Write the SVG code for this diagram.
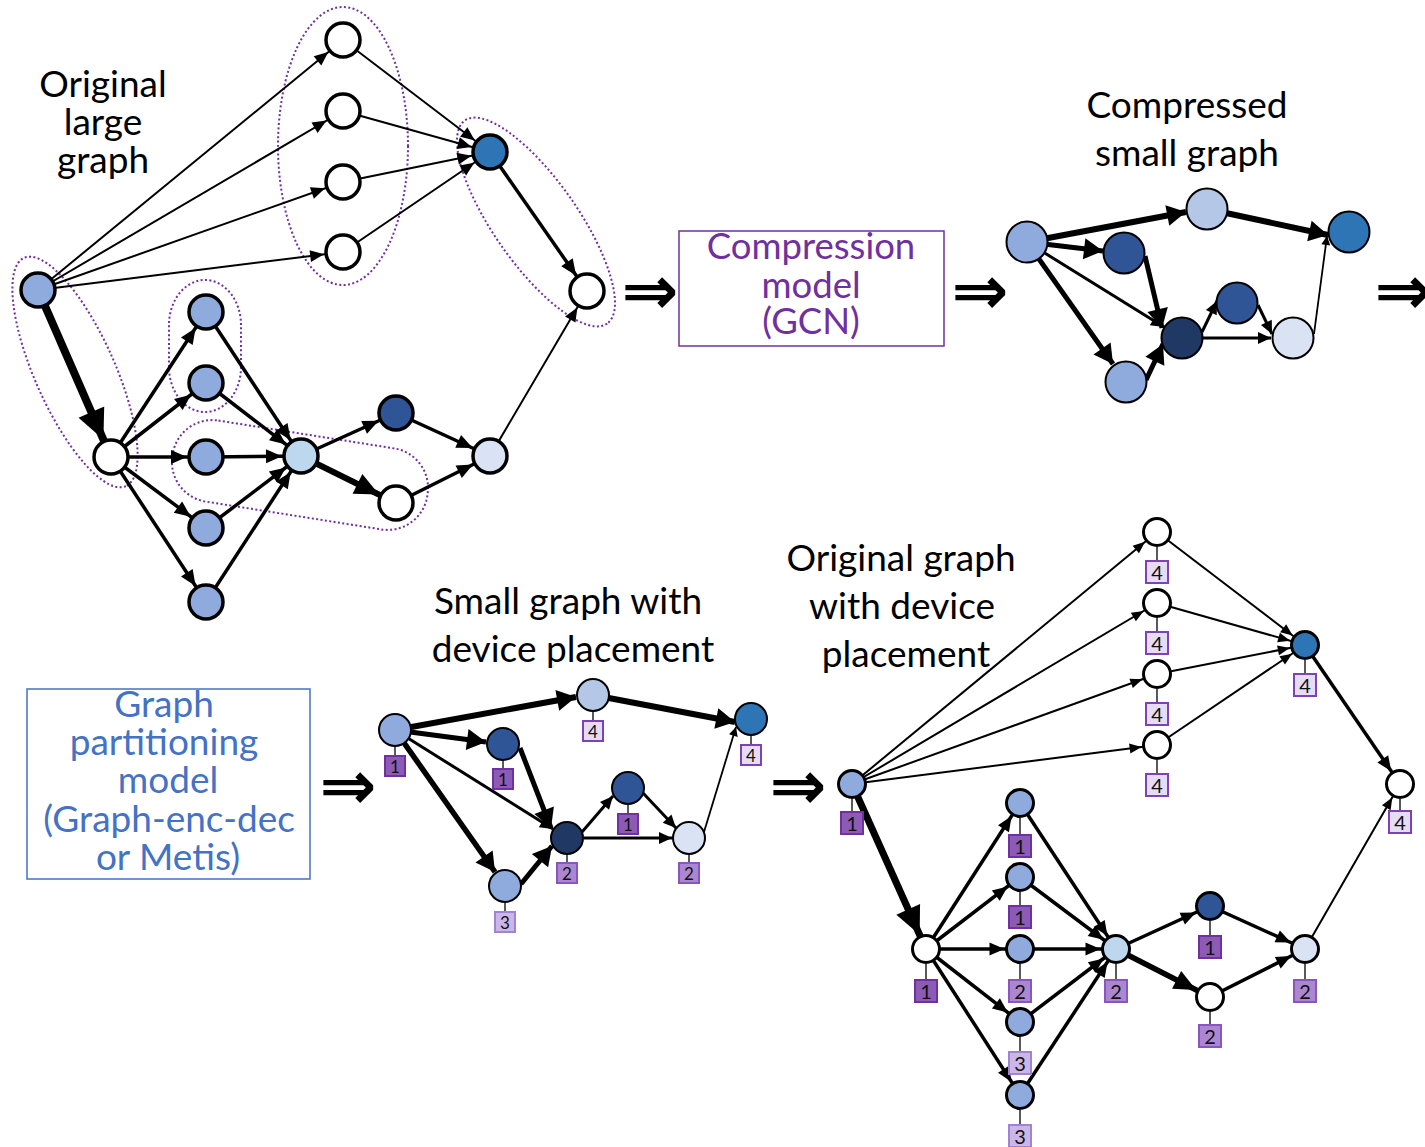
<svg xmlns="http://www.w3.org/2000/svg" width="1425" height="1147" viewBox="0 0 1425 1147">
  <style>
    text { font-family: Lato, "Liberation Sans", sans-serif; }
    .title { font-size: 37px; fill: #000; text-anchor: middle; }
    .boxp { font-size: 36.5px; fill: #7030A0; text-anchor: middle; }
    .boxb { font-size: 37px; fill: #4472C4; text-anchor: middle; }
    .imp { font-family: "DejaVu Sans", sans-serif; font-weight: bold; font-size: 68px; text-anchor: middle; fill: #000; }
    .e { stroke: #000; fill: none; }
    .grp { fill: none; stroke: #7030A0; stroke-width: 2; stroke-dasharray: 2 2.4; }
    .big circle { stroke: #000; stroke-width: 3.5; }
    .cmp circle { stroke: #000; stroke-width: 2; }
    .sml circle { stroke: #000; stroke-width: 2; }
    .org circle { stroke: #000; stroke-width: 3; }
    .tick { stroke: #222; stroke-width: 1.5; }
    .dev1 { fill: #8C5BB6; stroke: #7030A0; stroke-width: 2; }
    .dev2 { fill: #AB87D1; stroke: #8A55BF; stroke-width: 2; }
    .dev3 { fill: #CAB6E7; stroke: #A183D3; stroke-width: 2; }
    .dev4 { fill: #E6DDF4; stroke: #7D42B5; stroke-width: 2; }
    .sml text { font-size: 17px; text-anchor: middle; fill: #111; }
    .org text { font-size: 20px; text-anchor: middle; fill: #111; }
    .wht { fill: #FFFFFF; }
    .c1 { fill: #8FAADC; }
    .c2 { fill: #B4C7E7; }
    .c3 { fill: #BDD7EE; }
    .c4 { fill: #DAE3F3; }
    .c5 { fill: #2F5597; }
    .c6 { fill: #203864; }
    .c7 { fill: #2E75B6; }
  </style>
  <defs>
    <!-- arrowheads whose tip stops at the rim of a target node (refX = outer radius) -->
    <marker id="a1s" markerUnits="userSpaceOnUse" orient="auto" refX="19" refY="0" markerWidth="1" markerHeight="1" overflow="visible"><path d="M0,0 L-14,-6 L-14,6 z"/></marker>
    <marker id="a1m" markerUnits="userSpaceOnUse" orient="auto" refX="19" refY="0" markerWidth="1" markerHeight="1" overflow="visible"><path d="M0,0 L-16,-7 L-16,7 z"/></marker>
    <marker id="a1l" markerUnits="userSpaceOnUse" orient="auto" refX="19" refY="0" markerWidth="1" markerHeight="1" overflow="visible"><path d="M0,0 L-24,-11 L-24,11 z"/></marker>
    <marker id="a1x" markerUnits="userSpaceOnUse" orient="auto" refX="19" refY="0" markerWidth="1" markerHeight="1" overflow="visible"><path d="M0,0 L-30,-14 L-30,14 z"/></marker>
    <marker id="a4s" markerUnits="userSpaceOnUse" orient="auto" refX="15.5" refY="0" markerWidth="1" markerHeight="1" overflow="visible"><path d="M0,0 L-12,-5 L-12,5 z"/></marker>
    <marker id="a4m" markerUnits="userSpaceOnUse" orient="auto" refX="15.5" refY="0" markerWidth="1" markerHeight="1" overflow="visible"><path d="M0,0 L-15,-6.5 L-15,6.5 z"/></marker>
    <marker id="a4l" markerUnits="userSpaceOnUse" orient="auto" refX="15.5" refY="0" markerWidth="1" markerHeight="1" overflow="visible"><path d="M0,0 L-22,-10 L-22,10 z"/></marker>
    <marker id="a4x" markerUnits="userSpaceOnUse" orient="auto" refX="15.5" refY="0" markerWidth="1" markerHeight="1" overflow="visible"><path d="M0,0 L-28,-13 L-28,13 z"/></marker>
    <!-- arrowheads whose tip sits exactly on the path end -->
    <marker id="ts" markerUnits="userSpaceOnUse" orient="auto" refX="0" refY="0" markerWidth="1" markerHeight="1" overflow="visible"><path d="M0,0 L-9,-4.5 L-9,4.5 z"/></marker>
    <marker id="tm" markerUnits="userSpaceOnUse" orient="auto" refX="0" refY="0" markerWidth="1" markerHeight="1" overflow="visible"><path d="M0,0 L-13,-6 L-13,6 z"/></marker>
    <marker id="tl" markerUnits="userSpaceOnUse" orient="auto" refX="0" refY="0" markerWidth="1" markerHeight="1" overflow="visible"><path d="M0,0 L-19,-10.5 L-19,10.5 z"/></marker>
  </defs>

  <rect width="1425" height="1147" fill="#FFFFFF"/>

  <!-- captions -->
  <g id="captions">
    <text class="title" x="103" y="97">Original</text>
    <text class="title" x="103" y="135">large</text>
    <text class="title" x="103" y="173">graph</text>
    <text class="title" x="1187" y="118">Compressed</text>
    <text class="title" x="1187" y="166">small graph</text>
    <text class="title" x="568" y="614">Small graph with</text>
    <text class="title" x="573" y="662">device placement</text>
    <text class="title" x="901" y="571">Original graph</text>
    <text class="title" x="902" y="619">with device</text>
    <text class="title" x="906" y="667">placement</text>
  </g>

  <!-- step arrows -->
  <g id="steps">
    <text class="imp" x="650" y="314">⇒</text>
    <text class="imp" x="980" y="314">⇒</text>
    <text class="imp" x="1403" y="314">⇒</text>
    <text class="imp" x="348" y="809">⇒</text>
    <text class="imp" x="798" y="809">⇒</text>
  </g>

  <!-- model boxes -->
  <g id="compression-model">
    <rect x="679" y="231" width="265" height="115" fill="none" stroke="#7030A0" stroke-width="1.5"/>
    <text class="boxp" x="811" y="259">Compression</text>
    <text class="boxp" x="811" y="298">model</text>
    <text class="boxp" x="811" y="334">(GCN)</text>
  </g>
  <g id="partitioning-model">
    <rect x="27" y="689" width="283" height="190" fill="none" stroke="#4472C4" stroke-width="1.5"/>
    <text class="boxb" x="164" y="717">Graph</text>
    <text class="boxb" x="164" y="755">partitioning</text>
    <text class="boxb" x="168" y="793">model</text>
    <text class="boxb" x="169" y="832">(Graph-enc-dec</text>
    <text class="boxb" x="168" y="870">or Metis)</text>
  </g>

  <!-- ============ original large graph ============ -->
  <g id="clusters">
    <ellipse class="grp" cx="75" cy="372" rx="125" ry="40" transform="rotate(66 75 372)"/>
    <ellipse class="grp" cx="343" cy="146" rx="65" ry="139"/>
    <ellipse class="grp" cx="536" cy="222" rx="124" ry="42" transform="rotate(55 536 222)"/>
    <rect class="grp" x="169" y="280" width="72" height="132" rx="36" ry="45"/>
    <rect class="grp" x="171" y="434" width="258" height="82" rx="40" ry="40" transform="rotate(9 300 475)"/>
  </g>

  <g id="edges-large" class="e">
    <g stroke-width="2" marker-end="url(#a1s)">
      <path d="M38,290 L343,40"/>
      <path d="M38,290 L343,111"/>
      <path d="M38,290 L343,182"/>
      <path d="M38,290 L343,252"/>
      <path d="M343,40 L490,152"/>
      <path d="M343,111 L490,152"/>
      <path d="M343,182 L490,152"/>
      <path d="M343,252 L490,152"/>
      <path d="M490,456 L587,291"/>
    </g>
    <g stroke-width="3.5" marker-end="url(#a1m)">
      <path d="M490,152 L587,291"/>
      <path d="M111,457 L206,312"/>
      <path d="M111,457 L206,383"/>
      <path d="M111,457 L206,457"/>
      <path d="M111,457 L206,528"/>
      <path d="M111,457 L206,602"/>
      <path d="M206,312 L301,456"/>
      <path d="M206,383 L301,456"/>
      <path d="M206,457 L301,456"/>
      <path d="M206,528 L301,456"/>
      <path d="M206,602 L301,456"/>
      <path d="M301,456 L396,413"/>
      <path d="M396,413 L490,456"/>
      <path d="M396,503 L490,456"/>
    </g>
    <path d="M301,456 L396,503" stroke-width="6" marker-end="url(#a1l)"/>
    <path d="M38,290 L111,457" stroke-width="8" marker-end="url(#a1x)"/>
  </g>

  <g class="big">
    <g id="g1-src"><circle class="c1" cx="38" cy="290" r="17"/></g>
    <g id="g1-t1"><circle class="wht" cx="343" cy="40" r="17"/></g>
    <g id="g1-t2"><circle class="wht" cx="343" cy="111" r="17"/></g>
    <g id="g1-t3"><circle class="wht" cx="343" cy="182" r="17"/></g>
    <g id="g1-t4"><circle class="wht" cx="343" cy="252" r="17"/></g>
    <g id="g1-join"><circle class="c7" cx="490" cy="152" r="17"/></g>
    <g id="g1-sink"><circle class="wht" cx="587" cy="291" r="17"/></g>
    <g id="g1-fork"><circle class="wht" cx="111" cy="457" r="17"/></g>
    <g id="g1-b1"><circle class="c1" cx="206" cy="312" r="17"/></g>
    <g id="g1-b2"><circle class="c1" cx="206" cy="383" r="17"/></g>
    <g id="g1-b3"><circle class="c1" cx="206" cy="457" r="17"/></g>
    <g id="g1-b4"><circle class="c1" cx="206" cy="528" r="17"/></g>
    <g id="g1-b5"><circle class="c1" cx="206" cy="602" r="17"/></g>
    <g id="g1-merge"><circle class="c3" cx="301" cy="456" r="17"/></g>
    <g id="g1-up"><circle class="c5" cx="396" cy="413" r="17"/></g>
    <g id="g1-down"><circle class="wht" cx="396" cy="503" r="17"/></g>
    <g id="g1-last"><circle class="c4" cx="490" cy="456" r="17"/></g>
  </g>

  <!-- ============ compressed small graph ============ -->
  <g id="edges-compressed" class="e">
    <path d="M1027,242 L1186,212" stroke-width="6" marker-end="url(#tl)"/>
    <path d="M1226,213 L1328,235" stroke-width="6" marker-end="url(#tl)"/>
    <path d="M1027,242 L1103,251" stroke-width="5" marker-end="url(#tl)"/>
    <path d="M1027,242 L1113,364" stroke-width="5" marker-end="url(#tl)"/>
    <path d="M1145,256 L1162,328" stroke-width="5" marker-end="url(#tl)"/>
    <path d="M1146,380 L1163,344" stroke-width="5" marker-end="url(#tl)"/>
    <path d="M1027,242 L1164,327" stroke-width="3" marker-end="url(#tm)"/>
    <path d="M1202,332 L1217,301" stroke-width="3" marker-end="url(#tm)"/>
    <path d="M1258,305 L1272,334" stroke-width="3" marker-end="url(#tm)"/>
    <path d="M1203,338 L1271,338" stroke-width="3" marker-end="url(#tm)"/>
    <path d="M1314,334 L1327,236" stroke-width="1.8" marker-end="url(#ts)"/>
  </g>

  <g class="cmp">
    <g id="g2-src"><circle class="c1" cx="1027" cy="242" r="20.5"/></g>
    <g id="g2-top"><circle class="c2" cx="1207" cy="209" r="20.5"/></g>
    <g id="g2-out"><circle class="c7" cx="1349" cy="232" r="20.5"/></g>
    <g id="g2-d1"><circle class="c5" cx="1124" cy="253" r="20.5"/></g>
    <g id="g2-hub"><circle class="c6" cx="1182" cy="338" r="20.5"/></g>
    <g id="g2-d2"><circle class="c5" cx="1237" cy="303" r="20.5"/></g>
    <g id="g2-mid"><circle class="c4" cx="1293" cy="338" r="20.5"/></g>
    <g id="g2-low"><circle class="c1" cx="1126" cy="382" r="20.5"/></g>
  </g>

  <!-- ============ small graph with device placement ============ -->
  <g id="edges-small" class="e">
    <path d="M395,730 L576,697" stroke-width="6" marker-end="url(#tl)"/>
    <path d="M593,695 L735,722" stroke-width="6" marker-end="url(#tl)"/>
    <path d="M395,730 L486,742" stroke-width="5" marker-end="url(#tl)"/>
    <path d="M395,730 L495,872" stroke-width="5.5" marker-end="url(#tl)"/>
    <path d="M520,748 L551,828" stroke-width="5" marker-end="url(#tl)"/>
    <path d="M521,884 L552,846" stroke-width="5" marker-end="url(#tl)"/>
    <path d="M395,730 L553,829" stroke-width="3" marker-end="url(#tm)"/>
    <path d="M582,832 L613,796" stroke-width="3" marker-end="url(#tm)"/>
    <path d="M643,793 L676,828" stroke-width="3" marker-end="url(#tm)"/>
    <path d="M584,838 L672,838" stroke-width="3" marker-end="url(#tm)"/>
    <path d="M704,832 L736,727" stroke-width="1.8" marker-end="url(#ts)"/>
  </g>

  <g class="sml">
    <g id="g3-src"><line class="tick" x1="395" y1="747" x2="395" y2="756"/><rect class="dev1" x="385" y="756" width="20" height="20"/><text x="395" y="773">1</text><circle class="c1" cx="395" cy="730" r="16"/></g>
    <g id="g3-top"><line class="tick" x1="593" y1="712" x2="593" y2="721"/><rect class="dev4" x="583" y="721" width="20" height="20"/><text x="593" y="738">4</text><circle class="c2" cx="593" cy="695" r="16"/></g>
    <g id="g3-out"><line class="tick" x1="751" y1="736" x2="751" y2="745"/><rect class="dev4" x="741" y="745" width="20" height="20"/><text x="751" y="762">4</text><circle class="c7" cx="751" cy="719" r="16"/></g>
    <g id="g3-d1"><line class="tick" x1="503" y1="761" x2="503" y2="769"/><rect class="dev1" x="493" y="769" width="20" height="20"/><text x="503" y="786">1</text><circle class="c5" cx="503" cy="744" r="16"/></g>
    <g id="g3-hub"><line class="tick" x1="567" y1="855" x2="567" y2="863"/><rect class="dev2" x="557" y="863" width="20" height="20"/><text x="567" y="880">2</text><circle class="c6" cx="567" cy="838" r="16"/></g>
    <g id="g3-d2"><line class="tick" x1="628" y1="805" x2="628" y2="814"/><rect class="dev1" x="618" y="814" width="20" height="20"/><text x="628" y="831">1</text><circle class="c5" cx="628" cy="788" r="16"/></g>
    <g id="g3-mid"><line class="tick" x1="689" y1="855" x2="689" y2="863"/><rect class="dev2" x="679" y="863" width="20" height="20"/><text x="689" y="880">2</text><circle class="c4" cx="689" cy="838" r="16"/></g>
    <g id="g3-low"><line class="tick" x1="505" y1="903" x2="505" y2="912"/><rect class="dev3" x="495" y="912" width="20" height="20"/><text x="505" y="929">3</text><circle class="c1" cx="505" cy="886" r="16"/></g>
  </g>

  <!-- ============ original graph with device placement ============ -->
  <g id="edges-placed" class="e">
    <g stroke-width="2" marker-end="url(#a4s)">
      <path d="M852,784 L1157,532"/>
      <path d="M852,784 L1157,603"/>
      <path d="M852,784 L1157,674"/>
      <path d="M852,784 L1157,745"/>
      <path d="M1157,532 L1305,645"/>
      <path d="M1157,603 L1305,645"/>
      <path d="M1157,674 L1305,645"/>
      <path d="M1157,745 L1305,645"/>
      <path d="M1305,949 L1400,784"/>
    </g>
    <g stroke-width="3.5" marker-end="url(#a4m)">
      <path d="M1305,645 L1400,784"/>
      <path d="M926,949 L1020,803"/>
      <path d="M926,949 L1020,877"/>
      <path d="M926,949 L1020,949"/>
      <path d="M926,949 L1020,1022"/>
      <path d="M926,949 L1020,1095"/>
      <path d="M1020,803 L1116,949"/>
      <path d="M1020,877 L1116,949"/>
      <path d="M1020,949 L1116,949"/>
      <path d="M1020,1022 L1116,949"/>
      <path d="M1020,1095 L1116,949"/>
      <path d="M1116,949 L1210,906"/>
      <path d="M1210,906 L1305,949"/>
      <path d="M1210,997 L1305,949"/>
    </g>
    <path d="M1116,949 L1210,997" stroke-width="5.5" marker-end="url(#a4l)"/>
    <path d="M852,784 L926,949" stroke-width="7" marker-end="url(#a4x)"/>
  </g>

  <g class="org">
    <g id="g4-src"><line class="tick" x1="852" y1="799" x2="852" y2="812"/><rect class="dev1" x="841" y="812" width="22" height="22"/><text x="852" y="831">1</text><circle class="c1" cx="852" cy="784" r="13.5"/></g>
    <g id="g4-t1"><line class="tick" x1="1157" y1="547" x2="1157" y2="561"/><rect class="dev4" x="1146" y="561" width="22" height="22"/><text x="1157" y="580">4</text><circle class="wht" cx="1157" cy="532" r="13.5"/></g>
    <g id="g4-t2"><line class="tick" x1="1157" y1="618" x2="1157" y2="632"/><rect class="dev4" x="1146" y="632" width="22" height="22"/><text x="1157" y="651">4</text><circle class="wht" cx="1157" cy="603" r="13.5"/></g>
    <g id="g4-t3"><line class="tick" x1="1157" y1="689" x2="1157" y2="703"/><rect class="dev4" x="1146" y="703" width="22" height="22"/><text x="1157" y="722">4</text><circle class="wht" cx="1157" cy="674" r="13.5"/></g>
    <g id="g4-t4"><line class="tick" x1="1157" y1="760" x2="1157" y2="774"/><rect class="dev4" x="1146" y="774" width="22" height="22"/><text x="1157" y="793">4</text><circle class="wht" cx="1157" cy="745" r="13.5"/></g>
    <g id="g4-join"><line class="tick" x1="1305" y1="660" x2="1305" y2="674"/><rect class="dev4" x="1294" y="674" width="22" height="22"/><text x="1305" y="693">4</text><circle class="c7" cx="1305" cy="645" r="13.5"/></g>
    <g id="g4-sink"><line class="tick" x1="1400" y1="799" x2="1400" y2="811"/><rect class="dev4" x="1389" y="811" width="22" height="22"/><text x="1400" y="830">4</text><circle class="wht" cx="1400" cy="784" r="13.5"/></g>
    <g id="g4-fork"><line class="tick" x1="926" y1="964" x2="926" y2="980"/><rect class="dev1" x="915" y="980" width="22" height="22"/><text x="926" y="999">1</text><circle class="wht" cx="926" cy="949" r="13.5"/></g>
    <g id="g4-b1"><line class="tick" x1="1020" y1="818" x2="1020" y2="835"/><rect class="dev1" x="1009" y="835" width="22" height="22"/><text x="1020" y="854">1</text><circle class="c1" cx="1020" cy="803" r="13.5"/></g>
    <g id="g4-b2"><line class="tick" x1="1020" y1="892" x2="1020" y2="906"/><rect class="dev1" x="1009" y="906" width="22" height="22"/><text x="1020" y="925">1</text><circle class="c1" cx="1020" cy="877" r="13.5"/></g>
    <g id="g4-b3"><line class="tick" x1="1020" y1="964" x2="1020" y2="980"/><rect class="dev2" x="1009" y="980" width="22" height="22"/><text x="1020" y="999">2</text><circle class="c1" cx="1020" cy="949" r="13.5"/></g>
    <g id="g4-b4"><line class="tick" x1="1020" y1="1037" x2="1020" y2="1052"/><rect class="dev3" x="1009" y="1052" width="22" height="22"/><text x="1020" y="1071">3</text><circle class="c1" cx="1020" cy="1022" r="13.5"/></g>
    <g id="g4-b5"><line class="tick" x1="1020" y1="1110" x2="1020" y2="1125"/><rect class="dev3" x="1009" y="1125" width="22" height="22"/><text x="1020" y="1144">3</text><circle class="c1" cx="1020" cy="1095" r="13.5"/></g>
    <g id="g4-merge"><line class="tick" x1="1116" y1="964" x2="1116" y2="980"/><rect class="dev2" x="1105" y="980" width="22" height="22"/><text x="1116" y="999">2</text><circle class="c3" cx="1116" cy="949" r="13.5"/></g>
    <g id="g4-up"><line class="tick" x1="1210" y1="921" x2="1210" y2="936"/><rect class="dev1" x="1199" y="936" width="22" height="22"/><text x="1210" y="955">1</text><circle class="c5" cx="1210" cy="906" r="13.5"/></g>
    <g id="g4-down"><line class="tick" x1="1210" y1="1012" x2="1210" y2="1025"/><rect class="dev2" x="1199" y="1025" width="22" height="22"/><text x="1210" y="1044">2</text><circle class="wht" cx="1210" cy="997" r="13.5"/></g>
    <g id="g4-last"><line class="tick" x1="1305" y1="964" x2="1305" y2="980"/><rect class="dev2" x="1294" y="980" width="22" height="22"/><text x="1305" y="999">2</text><circle class="c4" cx="1305" cy="949" r="13.5"/></g>
  </g>
</svg>
